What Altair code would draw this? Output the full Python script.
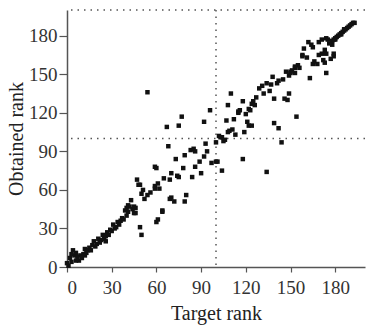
import altair as alt
import pandas as pd

# Target rank (x) and obtained rank (y) for each item
target = [
    0, 2, 4, 5, 8, 9, 11, 12, 14, 17, 18, 20, 21, 23, 24, 27, 29, 28, 31, 33, 34, 37, 39, 40, 42, 43,
    46, 47, 49, 50, 54, 49, 50, 60, 59, 64, 59, 70, 69,
    1, 3, 6, 7, 10, 13, 15, 16, 19, 22, 25, 26, 30, 32, 35, 36, 38, 41, 44, 45, 3, 6, 12, 26,
    54, 77, 67, 75, 96, 92, 110, 108, 107, 112, 115, 68, 73, 60, 79, 83, 85, 86, 93, 94, 92, 89,
    86, 90, 84, 97, 100, 104, 100, 103, 105, 108, 111, 113, 78, 74, 75, 70, 65, 61, 62, 59, 56,
    51, 52, 48, 80, 79, 69, 72, 64, 41, 45, 46, 40, 61,
    162, 165, 158, 161, 165, 155, 153, 150, 147, 153, 149, 145, 142, 141, 138, 163, 134, 137,
    131, 129, 136, 132, 127, 125, 126, 124, 122, 123, 120, 118, 116, 115, 121, 122, 124, 119,
    109, 104, 102, 106, 139, 146, 148, 139, 142, 144, 154, 118, 101, 134,
    164, 169, 171, 174, 175, 178, 159, 158, 173, 171, 174, 169, 179, 179, 166, 168, 172, 177,
    173, 174, 156, 153, 151, 150, 149,
    178, 179, 180, 181, 182, 183, 184, 185, 186, 187, 188, 189, 190, 191, 192, 193, 180, 184,
    186, 176,
]
obtained = [
    3, 7, 13, 9, 5, 9, 10, 14, 13, 17, 20, 18, 22, 21, 25, 27, 29, 25, 33, 31, 35, 38, 44, 40, 47, 52,
    46, 68, 64, 57, 56, 31, 25, 35, 61, 43, 78, 54, 68,
    1, 4, 11, 8, 7, 11, 15, 13, 16, 19, 22, 24, 28, 30, 33, 36, 37, 43, 45, 42, 10, 5, 9, 20,
    136, 117, 109, 110, 122, 113, 135, 126, 114, 115, 121, 94, 84, 77, 87, 91, 92, 90, 96, 90, 86, 82,
    78, 73, 70, 81, 82, 75, 97, 101, 98, 105, 107, 103, 77, 71, 70, 73, 69, 65, 61, 63, 58,
    60, 53, 64, 56, 51, 53, 51, 44, 48, 47, 42, 46, 37,
    175, 171, 165, 163, 158, 157, 155, 152, 152, 151, 149, 146, 145, 143, 148, 147, 143, 142,
    141, 139, 137, 135, 132, 129, 126, 127, 123, 122, 119, 129, 122, 120, 113, 110, 110, 105,
    106, 101, 102, 99, 131, 131, 130, 112, 108, 97, 117, 84, 82, 74,
    173, 175, 177, 178, 177, 173, 170, 164, 169, 166, 166, 165, 166, 164, 160, 158, 161, 162,
    159, 151, 155, 156, 153, 151, 135,
    176, 177, 178, 179, 180, 181, 182, 183, 184, 185, 186, 187, 188, 189, 190, 190, 177, 181,
    185, 174,
]

tick_values = [0, 30, 60, 90, 120, 150, 180]
hline_values = [100, 200]
vline_values = [100]

pts = pd.DataFrame({"x": target, "y": obtained})
hl = pd.DataFrame({"y": hline_values})
vl = pd.DataFrame({"x": vline_values})

xscale = alt.Scale(domain=[0, 200], nice=False, zero=True)
yscale = alt.Scale(domain=[0, 200], nice=False, zero=True)

label_font = "Liberation Sans Narrow"
title_font = "Liberation Serif"

xaxis = alt.Axis(
    values=tick_values, title="Target rank", grid=False,
    tickSize=5, labelPadding=6, labelFont=label_font, labelFontSize=19,
    labelColor="#333", titleFont=title_font, titleFontSize=20,
    titleFontWeight="normal", titleColor="#222", titlePadding=6,
    domainColor="#555", domainWidth=1.5, tickColor="#555", tickWidth=1.2,
)
yaxis = alt.Axis(
    values=tick_values, title="Obtained rank", grid=False,
    tickSize=8, labelPadding=2, labelFont=label_font, labelFontSize=19,
    labelColor="#333", titleFont=title_font, titleFontSize=20,
    titleFontWeight="normal", titleColor="#222", titlePadding=2,
    domainColor="#555", domainWidth=1.5, tickColor="#555", tickWidth=1.2,
)

points = alt.Chart(pts).mark_square(size=20, color="#111", opacity=1).encode(
    x=alt.X("x:Q", scale=xscale, axis=xaxis),
    y=alt.Y("y:Q", scale=yscale, axis=yaxis),
)

hrules = alt.Chart(hl).mark_rule(color="#555", strokeWidth=1.5, strokeDash=[1.5, 5]).encode(
    y=alt.Y("y:Q", scale=yscale, axis=yaxis)
)
vrules = alt.Chart(vl).mark_rule(color="#555", strokeWidth=1.5, strokeDash=[1.5, 5]).encode(
    x=alt.X("x:Q", scale=xscale, axis=xaxis)
)

chart = alt.layer(hrules, vrules, points).properties(
    width=298, height=257,
    autosize=alt.AutoSizeParams(type="none"),
    padding={"left": 67, "top": 10, "right": 3, "bottom": 59},
    background="white",
).configure_view(stroke=None)

chart.save("out.html", embed_options={"renderer": "svg", "actions": False})
